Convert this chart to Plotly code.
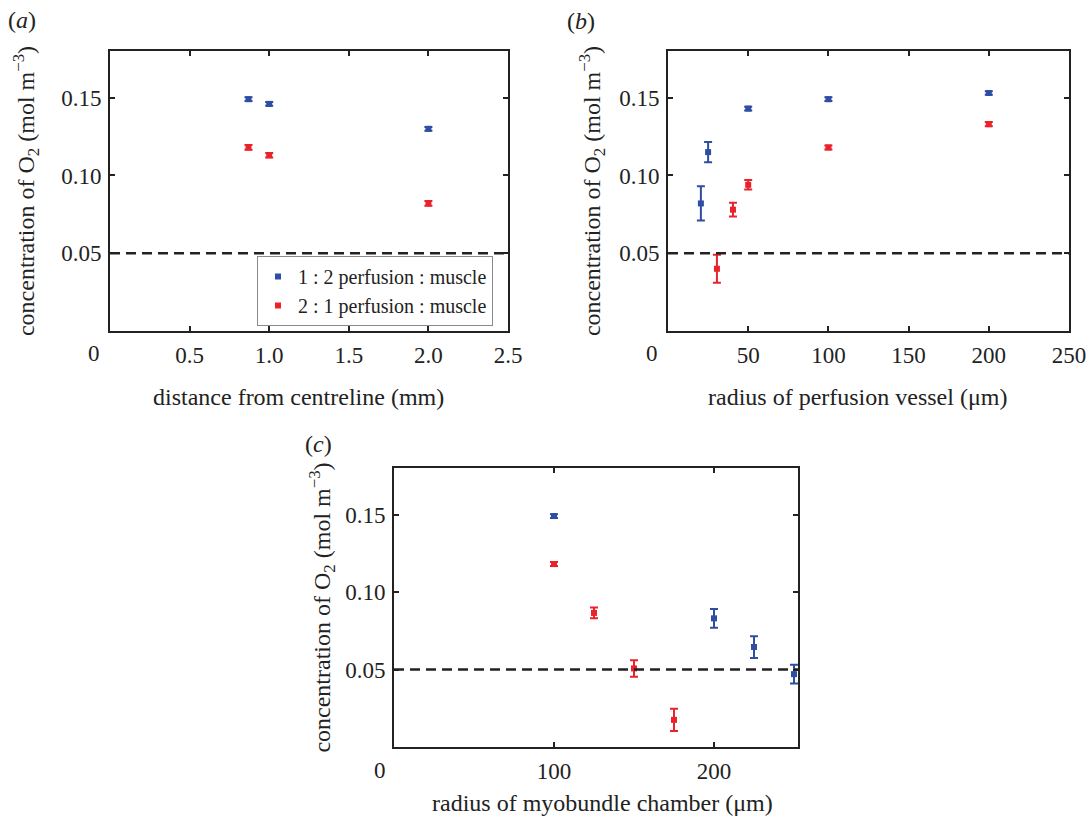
import plotly.graph_objects as go

# ---------------- data ----------------
# panel (a): distance from centreline (mm)
a_x_blue = [0.87, 1.0, 2.0]
a_y_blue = [0.149, 0.146, 0.130]
a_e_blue = [0.0012, 0.0012, 0.0012]
a_x_red = [0.87, 1.0, 2.0]
a_y_red = [0.118, 0.113, 0.082]
a_e_red = [0.0015, 0.0015, 0.0015]

# panel (b): radius of perfusion vessel (um)
b_x_blue = [20.5, 25, 50, 100, 200]
b_y_blue = [0.082, 0.115, 0.143, 0.149, 0.153]
b_e_blue = [0.011, 0.0065, 0.0012, 0.0012, 0.0012]
b_x_red = [30.5, 40.5, 50, 100, 200]
b_y_red = [0.040, 0.078, 0.094, 0.118, 0.133]
b_e_red = [0.009, 0.0044, 0.003, 0.0013, 0.0013]

# panel (c): radius of myobundle chamber (um)
c_x_blue = [100, 200, 225, 250]
c_y_blue = [0.149, 0.083, 0.0645, 0.047]
c_e_blue = [0.0012, 0.006, 0.007, 0.006]
c_x_red = [100, 125, 150, 175]
c_y_red = [0.118, 0.0865, 0.0507, 0.0175]
c_e_red = [0.0013, 0.0035, 0.0053, 0.0072]

threshold = 0.05
y_ticks = [0.05, 0.10, 0.15]
a_ticks = [0.5, 1.0, 1.5, 2.0, 2.5]
b_ticks = [50, 100, 150, 200, 250]
c_ticks = [100, 200]

series_names = ["1 : 2 perfusion : muscle", "2 : 1 perfusion : muscle"]
x_titles = ["distance from centreline (mm)",
            "radius of perfusion vessel (μm)",
            "radius of myobundle chamber (μm)"]
panel_letters = ["(<i>a</i>)", "(<i>b</i>)", "(<i>c</i>)"]
BLUE = "#2e4da3"
RED = "#e8232b"
INK = "#222222"
FONT = "Liberation Serif"
TICK_SIZE = 23
TITLE_SIZE = 24

fig = go.Figure()

def add_series(x, y, e, color, name, xa, ya, show):
    fig.add_trace(go.Scatter(
        x=x, y=y, mode="markers", name=name, showlegend=show,
        legendgroup=name,
        marker=dict(symbol="square", size=6, color=color),
        error_y=dict(type="data", array=e, visible=True, color=color,
                     thickness=2, width=4),
        xaxis=xa, yaxis=ya, cliponaxis=False,
    ))

add_series(a_x_blue, a_y_blue, a_e_blue, BLUE, series_names[0], "x", "y", True)
add_series(a_x_red, a_y_red, a_e_red, RED, series_names[1], "x", "y", True)
add_series(b_x_blue, b_y_blue, b_e_blue, BLUE, series_names[0], "x2", "y2", False)
add_series(b_x_red, b_y_red, b_e_red, RED, series_names[1], "x2", "y2", False)
add_series(c_x_blue, c_y_blue, c_e_blue, BLUE, series_names[0], "x3", "y3", False)
add_series(c_x_red, c_y_red, c_e_red, RED, series_names[1], "x3", "y3", False)

W, H = 1091, 818
def px_x(p): return p / W
def px_y(p): return 1 - p / H

axis_common = dict(
    showline=True, linecolor=INK, linewidth=2, mirror="ticks",
    ticks="inside", ticklen=5, tickwidth=2, tickcolor=INK,
    showgrid=False, zeroline=False, automargin=False,
    tickfont=dict(family=FONT, size=TICK_SIZE, color=INK),
)
ytitle = "concentration of O<sub>2</sub> (mol m<sup>−3</sup>)"

def yaxis(domain, anchor, standoff):
    return dict(axis_common, domain=domain, anchor=anchor, range=[0, 0.18],
                tickvals=y_ticks, tickformat=".2f", ticklabelstandoff=2,
                title=dict(text=ytitle, font=dict(family=FONT, size=TITLE_SIZE, color=INK),
                           standoff=standoff))

def xaxis(domain, anchor, rng, ticks, fmt):
    return dict(axis_common, domain=domain, anchor=anchor, range=rng,
                tickvals=ticks, tickformat=fmt, ticklabelstandoff=2)

top_dom = [px_y(331), px_y(51)]
bot_dom = [px_y(747), px_y(468)]

fig.update_layout(
    width=W, height=H,
    margin=dict(l=0, r=0, t=0, b=0, autoexpand=False),
    paper_bgcolor="white", plot_bgcolor="white",
    font=dict(family=FONT, size=TICK_SIZE, color=INK),
    xaxis=xaxis([px_x(110), px_x(508)], "y", [0, 2.5], a_ticks, ".1f"),
    yaxis=yaxis(top_dom, "x", 20),
    xaxis2=xaxis([px_x(668), px_x(1069)], "y2", [0, 250], b_ticks, "d"),
    yaxis2=yaxis(top_dom, "x2", 12),
    xaxis3=xaxis([px_x(394), px_x(798)], "y3", [0, 252.5], c_ticks, "d"),
    yaxis3=yaxis(bot_dom, "x3", 8),
    legend=dict(
        x=px_x(257), y=px_y(291), xanchor="left", yanchor="middle",
        bgcolor="white", bordercolor="#8a8a8a", borderwidth=1,
        font=dict(family=FONT, size=20, color=INK),
        itemwidth=30, tracegroupgap=0,
    ),
    showlegend=True,
)

# dashed threshold line in each panel
for xr, yr in [("x", "y"), ("x2", "y2"), ("x3", "y3")]:
    fig.add_shape(type="line", xref=f"{xr} domain", yref=yr,
                  x0=0, x1=1, y0=threshold, y1=threshold,
                  line=dict(color=INK, width=2.5, dash="10px,6px"))

def label(text, xp, yp, size):
    fig.add_annotation(text=text, x=px_x(xp), y=px_y(yp), xref="paper", yref="paper",
                       xanchor="center", yanchor="middle", showarrow=False,
                       font=dict(family=FONT, size=size, color=INK))

# x-axis titles
for t, (xp, yp) in zip(x_titles, [(298, 397), (857, 397), (602, 803)]):
    label(t, xp, yp, TITLE_SIZE)
# corner zero labels
for (xp, yp) in [(94, 353), (652, 353), (380, 770)]:
    label("0", xp, yp, TICK_SIZE)
# panel letters
for t, (xp, yp) in zip(panel_letters, [(22, 20), (581, 21), (318, 444)]):
    label(t, xp, yp, TITLE_SIZE)

fig.write_html("out.html", config={"displayModeBar": False},
               post_script="document.body.style.margin='0';")
